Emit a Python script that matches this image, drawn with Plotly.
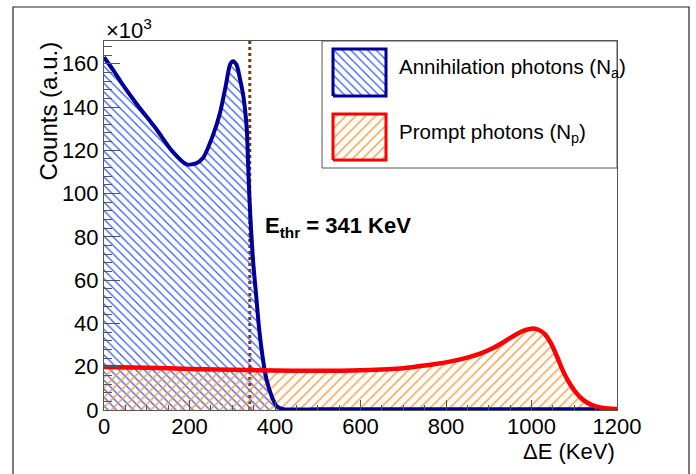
import plotly.graph_objects as go

# Energy deposition spectra (counts in units of 10^3)
annih_energy = [0, 20, 45, 80, 123, 160, 193, 215, 232, 255, 271, 285, 295, 302, 310,
                318, 326, 334, 337, 340, 344, 349, 356, 363, 373, 380, 392, 404, 420,
                500, 600, 700, 800, 900, 1000, 1100, 1200]
annih_counts = [163, 157.5, 150, 140.5, 129.6, 119.5, 113.5, 114, 116.6, 127, 137, 150,
                159.7, 161.2, 159.5, 153, 145, 129.7, 114.3, 98.8, 83.5, 68.1, 52.7,
                37.3, 21.9, 14.2, 6.5, 1.8, 0.4, 0.3, 0.3, 0.3, 0.3, 0.3, 0.3, 0.3, 0.3]

prompt_energy = [0, 100, 200, 300, 400, 500, 600, 700, 750, 800, 850, 880, 910, 940,
                 965, 985, 1000, 1015, 1030, 1045, 1060, 1075, 1090, 1105, 1120, 1140,
                 1160, 1180, 1200]
prompt_counts = [19.9, 19.5, 19.0, 18.6, 18.2, 18.1, 18.4, 19.3, 20.6, 22.0, 24.2, 26.0,
                 28.6, 32.0, 35.0, 36.9, 37.6, 37.2, 35.3, 31.0, 24.5, 17.5, 12.0, 7.8,
                 4.8, 2.4, 1.2, 0.7, 0.5]

E_THR = 341  # energy threshold (KeV)

x_ticks = [0, 200, 400, 600, 800, 1000, 1200]
y_ticks = [0, 20, 40, 60, 80, 100, 120, 140, 160]

series_names = ["Annihilation photons (N<sub>a</sub>)", "Prompt photons (N<sub>p</sub>)"]

FONT = "Liberation Sans, Arial, Helvetica, sans-serif"
BLUE_LINE = "#000099"
BLUE_HATCH = "#3a5ef0"
RED_LINE = "#ff0000"
ORANGE_HATCH = "#f79a3e"
FRAME = "#555555"

blue_pattern = dict(shape="\\", fgcolor=BLUE_HATCH, bgcolor="rgba(0,0,0,0)",
                    size=6, solidity=0.22, fillmode="replace")
orange_pattern = dict(shape="/", fgcolor=ORANGE_HATCH, bgcolor="rgba(0,0,0,0)",
                      size=7, solidity=0.2, fillmode="replace")

fig = go.Figure()

# hatched areas
fig.add_trace(go.Scatter(x=annih_energy, y=annih_counts, mode="lines",
                         line=dict(width=0, shape="spline", smoothing=0.7),
                         fill="tozeroy", fillcolor="rgba(0,0,0,0)",
                         fillpattern=blue_pattern, hoverinfo="skip", showlegend=False))
fig.add_trace(go.Scatter(x=prompt_energy, y=prompt_counts, mode="lines",
                         line=dict(width=0, shape="spline", smoothing=1.0),
                         fill="tozeroy", fillcolor="rgba(0,0,0,0)",
                         fillpattern=orange_pattern, hoverinfo="skip", showlegend=False))

# outlines
fig.add_trace(go.Scatter(x=annih_energy, y=annih_counts, mode="lines",
                         line=dict(color=BLUE_LINE, width=4, shape="spline", smoothing=0.7),
                         name=series_names[0], showlegend=False))
fig.add_trace(go.Scatter(x=prompt_energy, y=prompt_counts, mode="lines",
                         line=dict(color=RED_LINE, width=4.5, shape="spline", smoothing=1.0),
                         name=series_names[1], showlegend=False))

# legend swatches on an overlay axis in [0,1] units of the plot area
def swatch(x0, x1, y0, y1, line_color, pattern):
    return go.Scatter(x=[x0, x1, x1, x0, x0], y=[y0, y0, y1, y1, y0],
                      xaxis="x2", yaxis="y2", mode="lines", fill="toself",
                      fillcolor="rgba(0,0,0,0)", fillpattern=pattern,
                      line=dict(color=line_color, width=3), hoverinfo="skip",
                      showlegend=False)

fig.add_trace(swatch(0.4464, 0.5497, 0.8509, 0.9783, BLUE_LINE, blue_pattern))
fig.add_trace(swatch(0.4464, 0.5497, 0.6775, 0.8022, RED_LINE, orange_pattern))

tick_font = dict(family=FONT, size=22, color="black")

fig.update_layout(
    width=696, height=474, autosize=False,
    margin=dict(l=104, r=79, t=41, b=64, pad=0),
    paper_bgcolor="white", plot_bgcolor="white",
    font=dict(family=FONT, color="black"),
    showlegend=False,
    xaxis=dict(range=[0, 1200], tickvals=x_ticks, ticktext=[str(v) for v in x_ticks],
               ticks="inside", ticklen=10, tickwidth=1, tickcolor=FRAME,
               minor=dict(dtick=50, ticks="inside", ticklen=5, tickcolor=FRAME),
               showline=True, linecolor=FRAME, linewidth=1, mirror=True,
               showgrid=False, zeroline=False, tickfont=tick_font,
               ticklabelstandoff=-3),
    yaxis=dict(range=[0, 170.5], tickvals=y_ticks, ticktext=[str(v) for v in y_ticks],
               ticks="inside", ticklen=16, tickwidth=1, tickcolor=FRAME,
               minor=dict(dtick=4, ticks="inside", ticklen=8, tickcolor=FRAME),
               showline=True, linecolor=FRAME, linewidth=1, mirror=True,
               showgrid=False, zeroline=False, tickfont=tick_font),
    xaxis2=dict(overlaying="x", range=[0, 1], visible=False, fixedrange=True),
    yaxis2=dict(overlaying="y", range=[0, 1], visible=False, fixedrange=True),
    shapes=[
        # threshold marker
        dict(type="line", xref="x", yref="paper", x0=E_THR, x1=E_THR, y0=0, y1=1,
             line=dict(color="#7a3a10", width=3, dash="dot"), layer="below"),
        # legend box
        dict(type="rect", xref="paper", yref="paper", x0=0.425, x1=1, y0=0.6558, y1=1,
             line=dict(color=FRAME, width=1), fillcolor="white", layer="below"),
        # canvas frame
        dict(type="path", xref="paper", yref="paper",
             path="M -0.1774,-0.3 L -0.1774,1.0921 L 1.1404,1.0921 L 1.1404,-0.3",
             line=dict(color="#222222", width=1.2)),
    ],
    annotations=[
        dict(text="Counts (a.u.)", xref="paper", yref="paper", x=-0.109, y=1.0027,
             xanchor="center", yanchor="top", textangle=-90, showarrow=False,
             font=dict(family=FONT, size=24, color="black")),
        dict(text="\u0394E (KeV)", xref="paper", yref="paper", x=1.0, y=-0.1138,
             xanchor="right", yanchor="middle", showarrow=False,
             font=dict(family=FONT, size=22, color="black")),
        dict(text="\u00d710<sup>3</sup>", xref="paper", yref="paper", x=0.0, y=1.0325,
             xanchor="left", yanchor="middle", showarrow=False,
             font=dict(family=FONT, size=22, color="black")),
        dict(text="<b>E<sub>thr</sub> = %d KeV</b>" % E_THR, xref="x", yref="y",
             x=372, y=84.4, xanchor="left", yanchor="middle", showarrow=False,
             font=dict(family=FONT, size=22, color="black")),
        dict(text=series_names[0], xref="paper", yref="paper", x=0.5712, y=0.9268,
             xanchor="left", yanchor="middle", showarrow=False,
             font=dict(family=FONT, size=20.5, color="black")),
        dict(text=series_names[1], xref="paper", yref="paper", x=0.5712, y=0.7507,
             xanchor="left", yanchor="middle", showarrow=False,
             font=dict(family=FONT, size=20.5, color="black")),
    ],
)

fig.write_html("out.html")
